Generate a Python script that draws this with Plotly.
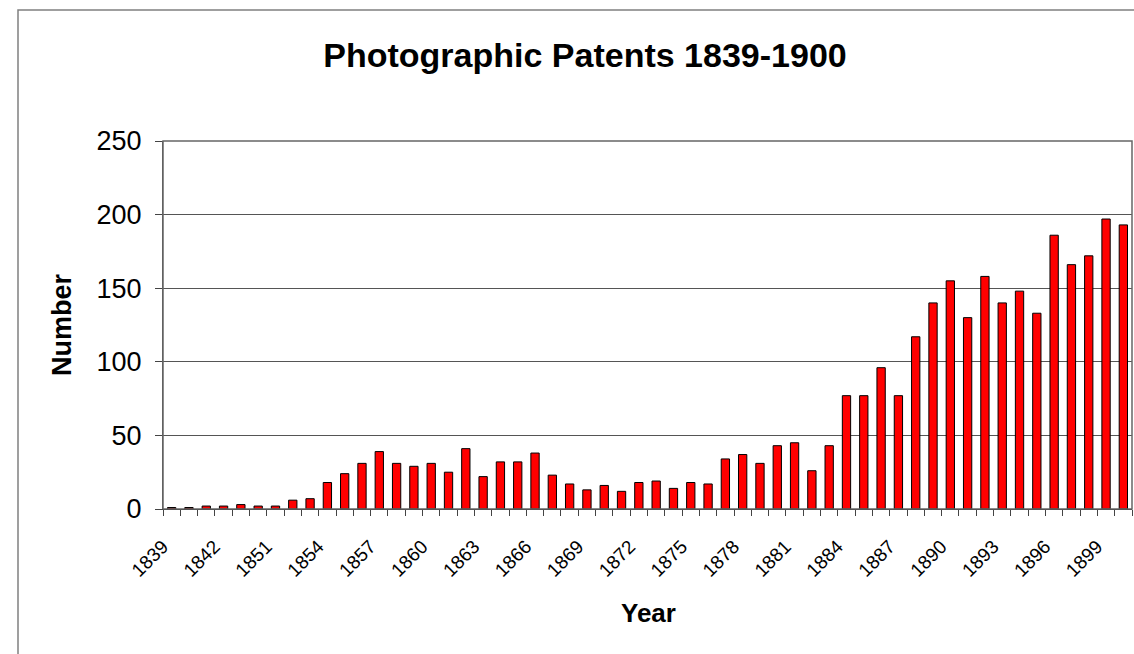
import plotly.graph_objects as go

years = ["1839", "1840", "1841", "1842", "1849", "1850"] + [str(y) for y in range(1851, 1901)]
patents = [1, 1, 2, 2, 3, 2,
           2, 6, 7, 18, 24, 31, 39, 31, 29, 31,
           25, 41, 22, 32, 32, 38, 23, 17, 13, 16,
           12, 18, 19, 14, 18, 17, 34, 37, 31, 43,
           45, 26, 43, 77, 77, 96, 77, 117, 140, 155,
           130, 158, 140, 148, 133, 186, 166, 172, 197, 193]
label_step = 3

FONT = "Liberation Sans, Arial, sans-serif"
idx = list(range(len(years)))
tick_idx = idx[::label_step]
tick_txt = [years[i] for i in tick_idx]
bounds = [i - 0.5 for i in range(len(years) + 1)]

fig = go.Figure(go.Bar(
    x=idx, y=patents,
    marker=dict(color="#FF0000", line=dict(color="#000000", width=1)),
    hovertext=years,
))

L, R, T, B = 163, 2, 141, 145
W, H = 1134, 654
pw = W - L - R
ph = H - T - B

fig.update_layout(
    width=W, height=H,
    margin=dict(l=L, r=R, t=T, b=B, autoexpand=False),
    paper_bgcolor="white", plot_bgcolor="white",
    bargap=0.52,
    showlegend=False,
    font=dict(family=FONT, color="black"),
    title=dict(text="<b>Photographic Patents 1839-1900</b>",
               font=dict(size=34, family=FONT, color="black"),
               xref="container", yref="container",
               x=585 / W, y=1 - 55 / H, xanchor="center", yanchor="middle"),
    xaxis=dict(
        range=[-0.5, len(years) - 0.5],
        tickmode="array", tickvals=tick_idx, ticktext=tick_txt,
        tickangle=-45, tickfont=dict(size=19, family=FONT, color="black"),
        ticks="", showgrid=False, zeroline=False,
        showline=True, linecolor="#222222", linewidth=1,
        ticklabelstandoff=18, ticklabelshift=-9,
        minor=dict(tickmode="array", tickvals=bounds, ticks="outside",
                   ticklen=6, tickcolor="#444444", tickwidth=1, showgrid=False),
    ),
    yaxis=dict(
        range=[0, 250], dtick=50, tick0=0,
        tickfont=dict(size=27, family=FONT, color="black"),
        ticks="outside", ticklen=7, tickcolor="#444444",
        ticklabelstandoff=8,
        showgrid=True, gridcolor="#555555", gridwidth=1,
        zeroline=False, showline=True, linecolor="#555555", linewidth=1,
    ),
    shapes=[
        dict(type="rect", xref="paper", yref="paper", x0=0, x1=1, y0=0, y1=1,
             line=dict(color="#666666", width=1.5), layer="above"),
        dict(type="rect", xref="paper", yref="paper",
             x0=(18 - L) / pw, x1=(W + 20 - L) / pw,
             y0=-(H + 20 - (T + ph)) / ph, y1=(T + ph - 10) / ph,
             line=dict(color="#808080", width=1.5), layer="below"),
    ],
    annotations=[
        dict(text="<b>Number</b>", xref="paper", yref="paper",
             x=(62 - L) / pw, y=0.5, textangle=-90, showarrow=False,
             xanchor="center", yanchor="middle",
             font=dict(size=27, family=FONT, color="black")),
        dict(text="<b>Year</b>", xref="paper", yref="paper",
             x=(648 - L) / pw, y=-(613 - (T + ph)) / ph, showarrow=False,
             xanchor="center", yanchor="middle",
             font=dict(size=26, family=FONT, color="black")),
    ],
)

fig.write_html(
    "out.html",
    config={"displayModeBar": False},
    post_script="document.body.style.margin='0';document.body.style.padding='0';"
                "document.body.style.overflow='hidden';"
                "document.documentElement.style.overflow='hidden';",
)
